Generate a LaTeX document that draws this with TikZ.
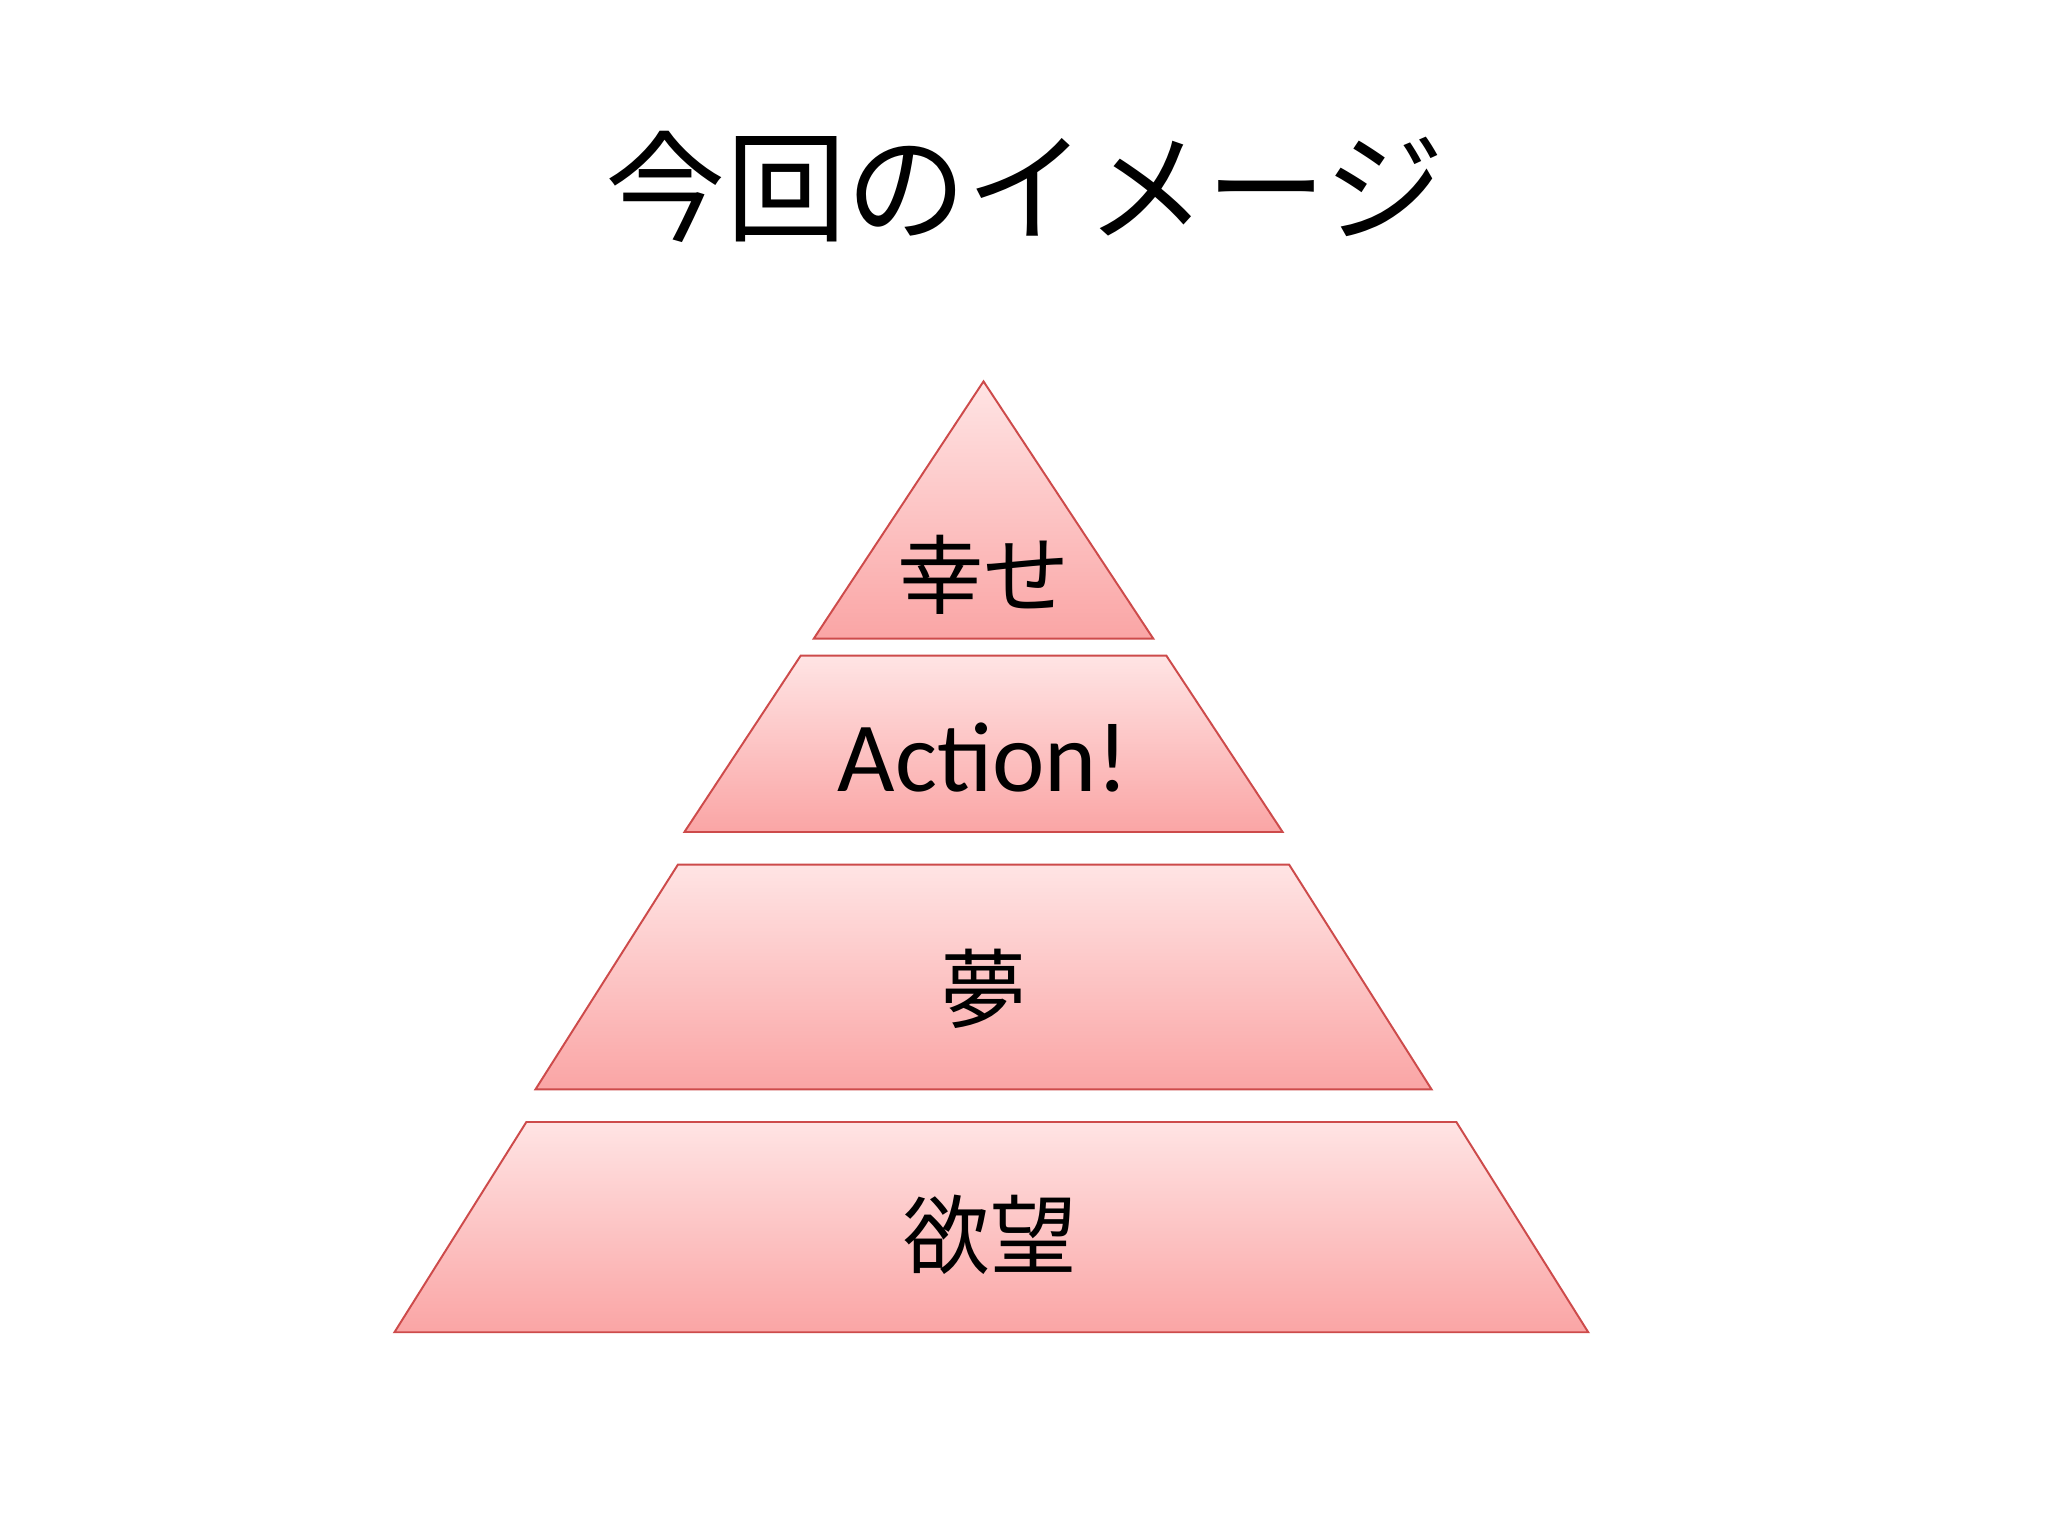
\documentclass[tikz,border=0pt]{standalone}
\usepackage{fontspec}
\newfontfamily\cjk{Noto Sans CJK JP}
\setsansfont{Carlito}
\definecolor{pktop}{RGB}{255,228,228}
\definecolor{pkbot}{RGB}{250,165,165}
\definecolor{pkline}{RGB}{205,75,75}
\begin{document}
\begin{tikzpicture}[x=1pt,y=-1pt,
  tier/.style={draw=pkline,line width=1.5pt,top color=pktop,bottom color=pkbot},
  lbl/.style={font=\cjk\fontsize{66}{70}\selectfont,text=black}]
\useasboundingbox (0,0) rectangle (1568,1176);
\path[tier] (753,292) -- (883,489) -- (623,489) -- cycle;
\path[tier] (613,502) -- (893,502) -- (982,637) -- (524,637) -- cycle;
\path[tier] (519,662) -- (987,662) -- (1096,834) -- (410,834) -- cycle;
\path[tier] (403,859) -- (1115,859) -- (1216,1020) -- (302,1020) -- cycle;
\node (title) at (785,143) {\cjk\fontsize{92}{96}\selectfont 今回のイメージ};
\node[lbl] (t1) at (753,440) {幸せ};
\node (t2) at (753,580) {\sffamily\fontsize{76}{80}\selectfont Action!};
\node[lbl] (t3) at (753,757) {夢};
\node[lbl] (t4) at (758,945) {欲望};
\end{tikzpicture}
\end{document}
